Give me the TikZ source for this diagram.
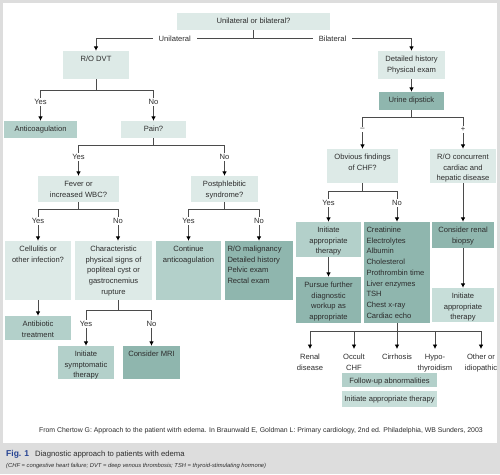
\documentclass[tikz,border=0pt]{standalone}
\usepackage{fontspec}
\setmainfont{Liberation Sans}
\usetikzlibrary{arrows.meta}
\definecolor{pale}{RGB}{221,234,231}
\definecolor{soft}{RGB}{199,222,217}
\definecolor{mid}{RGB}{179,208,202}
\definecolor{deep}{RGB}{143,182,174}
\definecolor{wire}{RGB}{75,75,75}
\definecolor{ink}{RGB}{45,45,45}
\definecolor{frame}{RGB}{221,221,221}
\definecolor{figblue}{RGB}{36,66,146}
\newcommand{\ctext}[3]{\parbox[t][#2][t]{#1}{\centering\rule{0pt}{10.5pt}#3}}
\newcommand{\ltext}[3]{\parbox[t][#2][t]{#1}{\raggedright\leftskip=2.5pt\rule{0pt}{10.5pt}#3}}
\begin{document}
\begin{tikzpicture}
    [
    x=1pt, y=-1pt,
    box/.style={rectangle,inner sep=0pt,text=ink,font=\fontsize{7.6}{10.7}\selectfont},
    lbl/.style={fill=white,inner sep=1.5pt,text=ink,font=\fontsize{7.6}{9}\selectfont},
    arr/.style={draw=wire,line width=1pt,-{Latex[length=4.5pt,width=4.8pt,color=black]}},
    outcome/.style={anchor=north,align=center,inner xsep=1pt,inner ysep=5pt,text=ink,font=\fontsize{7.6}{11}\selectfont}
    ]
    \useasboundingbox (0,0) rectangle (500,474);
    \fill[frame] (0,0) rectangle (500,474);
    \fill[white] (3,3) rectangle (497,443);

    % boxes
    \node (top) at (253.5,21.5) [box, fill=pale] {\ctext{153pt}{17pt}{Unilateral or bilateral?}};
    \node (rodvt) at (96,65) [box, fill=pale] {\ctext{66pt}{28pt}{R/O DVT}};
    \node (anticoag) at (40.5,129.5) [box, fill=mid] {\ctext{73pt}{17pt}{Anticoagulation}};
    \node (pain) at (153.5,129.5) [box, fill=pale] {\ctext{65pt}{17pt}{Pain?}};
    \node (fever) at (78.5,189) [box, fill=pale] {\ctext{81pt}{26pt}{Fever or\\increased WBC?}};
    \node (postph) at (224.5,189) [box, fill=pale] {\ctext{67pt}{26pt}{Postphlebitic\\syndrome?}};
    \node (cellul) at (38,270.5) [box, fill=pale] {\ctext{66pt}{59pt}{Cellulitis or\\other infection?}};
    \node (charac) at (113.5,270.5) [box, fill=pale] {\ctext{77pt}{59pt}{Characteristic\\physical signs of\\popliteal cyst or\\gastrocnemius\\rupture}};
    \node (contin) at (188.5,270.5) [box, fill=mid] {\ctext{65pt}{59pt}{Continue\\anticoagulation}};
    \node (romalig) at (259,270.5) [box, fill=deep] {\ltext{68pt}{59pt}{R/O malignancy\\Detailed history\\Pelvic exam\\Rectal exam}};
    \node (antibio) at (38,328) [box, fill=mid] {\ctext{66pt}{24pt}{Antibiotic\\treatment}};
    \node (sympt) at (86,362.5) [box, fill=mid] {\ctext{56pt}{33pt}{Initiate\\symptomatic\\therapy}};
    \node (mri) at (151.5,362.5) [box, fill=deep] {\ctext{57pt}{33pt}{Consider MRI}};

    \node (detail) at (411.5,65) [box, fill=pale] {\ctext{67pt}{28pt}{Detailed history\\Physical exam}};
    \node (urine) at (411.5,101) [box, fill=deep] {\ctext{65pt}{18pt}{Urine dipstick}};
    \node (obvious) at (362.5,166) [box, fill=pale] {\ctext{71pt}{34pt}{Obvious findings\\of CHF?}};
    \node (roconc) at (463,166) [box, fill=pale] {\ctext{66pt}{34pt}{R/O concurrent\\cardiac and\\hepatic disease}};
    \node (initchf) at (328.5,239.5) [box, fill=mid] {\ctext{65pt}{35pt}{Initiate\\appropriate\\therapy}};
    \node (pursue) at (328.5,300) [box, fill=deep] {\ctext{65pt}{46pt}{Pursue further\\diagnostic\\workup as\\appropriate}};
    \node (creat) at (397,272.5) [box, fill=deep] {\ltext{66pt}{101pt}{Creatinine\\Electrolytes\\Albumin\\Cholesterol\\Prothrombin time\\Liver enzymes\\TSH\\Chest x-ray\\Cardiac echo}};
    \node (biopsy) at (463,235) [box, fill=deep] {\ctext{62pt}{26pt}{Consider renal\\biopsy}};
    \node (initright) at (463,305) [box, fill=soft] {\ctext{62pt}{34pt}{Initiate\\appropriate\\therapy}};
    \node (followup) at (389.5,380) [box, fill=mid] {\ctext{95pt}{14pt}{Follow-up abnormalities}};
    \node (initbottom) at (389.5,399) [box, fill=soft] {\ctext{95pt}{16pt}{Initiate appropriate therapy}};

    % outcomes
    \node (renal) at (310,349) [outcome] {Renal\\disease};
    \node (occult) at (354,349) [outcome] {Occult\\CHF};
    \node (cirrh) at (397,349) [outcome] {Cirrhosis};
    \node (hypo) at (435,349) [outcome] {Hypo-\\thyroidism};
    \node (other) at (481,349) [outcome] {Other or\\idiopathic};

    % connectors
    \draw [arr] (top.south) -- ++(0,8.5) -| (rodvt.north) node [lbl, inner xsep=6pt, pos=0.25] (uni) {Unilateral};
    \draw [arr] (top.south) -- ++(0,8.5) -| (detail.north) node [lbl, inner xsep=6pt, pos=0.25] (bil) {Bilateral};
    \draw [arr] (rodvt.south) -- ++(0,11) -| (anticoag.north) node [lbl, pos=0.69] (yes1) {Yes};
    \draw [arr] (rodvt.south) -- ++(0,11) -| (pain.north) node [lbl, pos=0.69] (no1) {No};
    \draw [arr] (pain.south) -- ++(0,7) -| (fever.north) node [lbl, pos=0.69] (yes2) {Yes};
    \draw [arr] (pain.south) -- ++(0,7) -| (postph.north) node [lbl, pos=0.69] (no2) {No};
    \draw [arr] (fever.south) -- ++(0,7) -| (cellul.north) node [lbl, pos=0.69] (yes3) {Yes};
    \draw [arr] (fever.south) -- ++(0,7) -| ([xshift=4.5pt]charac.north) node [lbl, pos=0.69] (no3) {No};
    \draw [arr] (postph.south) -- ++(0,7) -| (contin.north) node [lbl, pos=0.69] (yes4) {Yes};
    \draw [arr] (postph.south) -- ++(0,7) -| (romalig.north) node [lbl, pos=0.69] (no4) {No};
    \draw [arr] (cellul.south) -- (antibio.north);
    \draw [arr] ([xshift=4.5pt]charac.south) -- ++(0,10) -| (sympt.north) node [lbl, pos=0.69] (yes5) {Yes};
    \draw [arr] ([xshift=4.5pt]charac.south) -- ++(0,10) -| (mri.north) node [lbl, pos=0.69] (no5) {No};

    \draw [arr] (detail.south) -- (urine.north);
    \draw [arr] (urine.south) -- ++(0,7) -| (obvious.north) node [lbl, pos=0.69] (neg) {–};
    \draw [arr] (urine.south) -- ++(0,7) -| (roconc.north) node [lbl, pos=0.69] (pos) {+};
    \draw [arr] (obvious.south) -- ++(0,8) -| (initchf.north) node [lbl, pos=0.69] (yes6) {Yes};
    \draw [arr] (obvious.south) -- ++(0,8) -| (creat.north) node [lbl, pos=0.69] (no6) {No};
    \draw [arr] (initchf.south) -- (pursue.north);
    \draw [arr] (roconc.south) -- (biopsy.north);
    \draw [arr] (biopsy.south) -- (initright.north);
    \draw [arr] (creat.south) -- ++(0,8) -| (renal.north);
    \draw [arr] (creat.south) -- ++(0,8) -| (occult.north);
    \draw [arr] (creat.south) -- (cirrh.north);
    \draw [arr] (creat.south) -- ++(0,8) -| (hypo.north);
    \draw [arr] (creat.south) -- ++(0,8) -| (other.north);

    % source and caption
    \node (source) at (483,432) [anchor=base east, inner sep=0pt, text=ink, font=\fontsize{6.9}{8}\selectfont] {From Chertow G: Approach to the patient witrh edema. In Braunwald E, Goldman L: Primary cardiology, 2nd ed. Philadelphia, WB Sunders, 2003};
    \node (fig) at (6,456) [anchor=base west, inner sep=0pt, text=figblue, font=\fontsize{8.5}{10}\selectfont\bfseries] {Fig. 1};
    \node (title) at (35,456) [anchor=base west, inner sep=0pt, text=ink, font=\fontsize{7.7}{9}\selectfont] {Diagnostic approach to patients with edema};
    \node (abbr) at (6,467.5) [anchor=base west, inner sep=0pt, text=ink, font=\fontsize{5.8}{7}\selectfont\itshape] {(CHF = congestive heart failure; DVT = deep venous thrombosis; TSH = thyroid-stimulating hormone)};
  \end{tikzpicture}
\end{document}
